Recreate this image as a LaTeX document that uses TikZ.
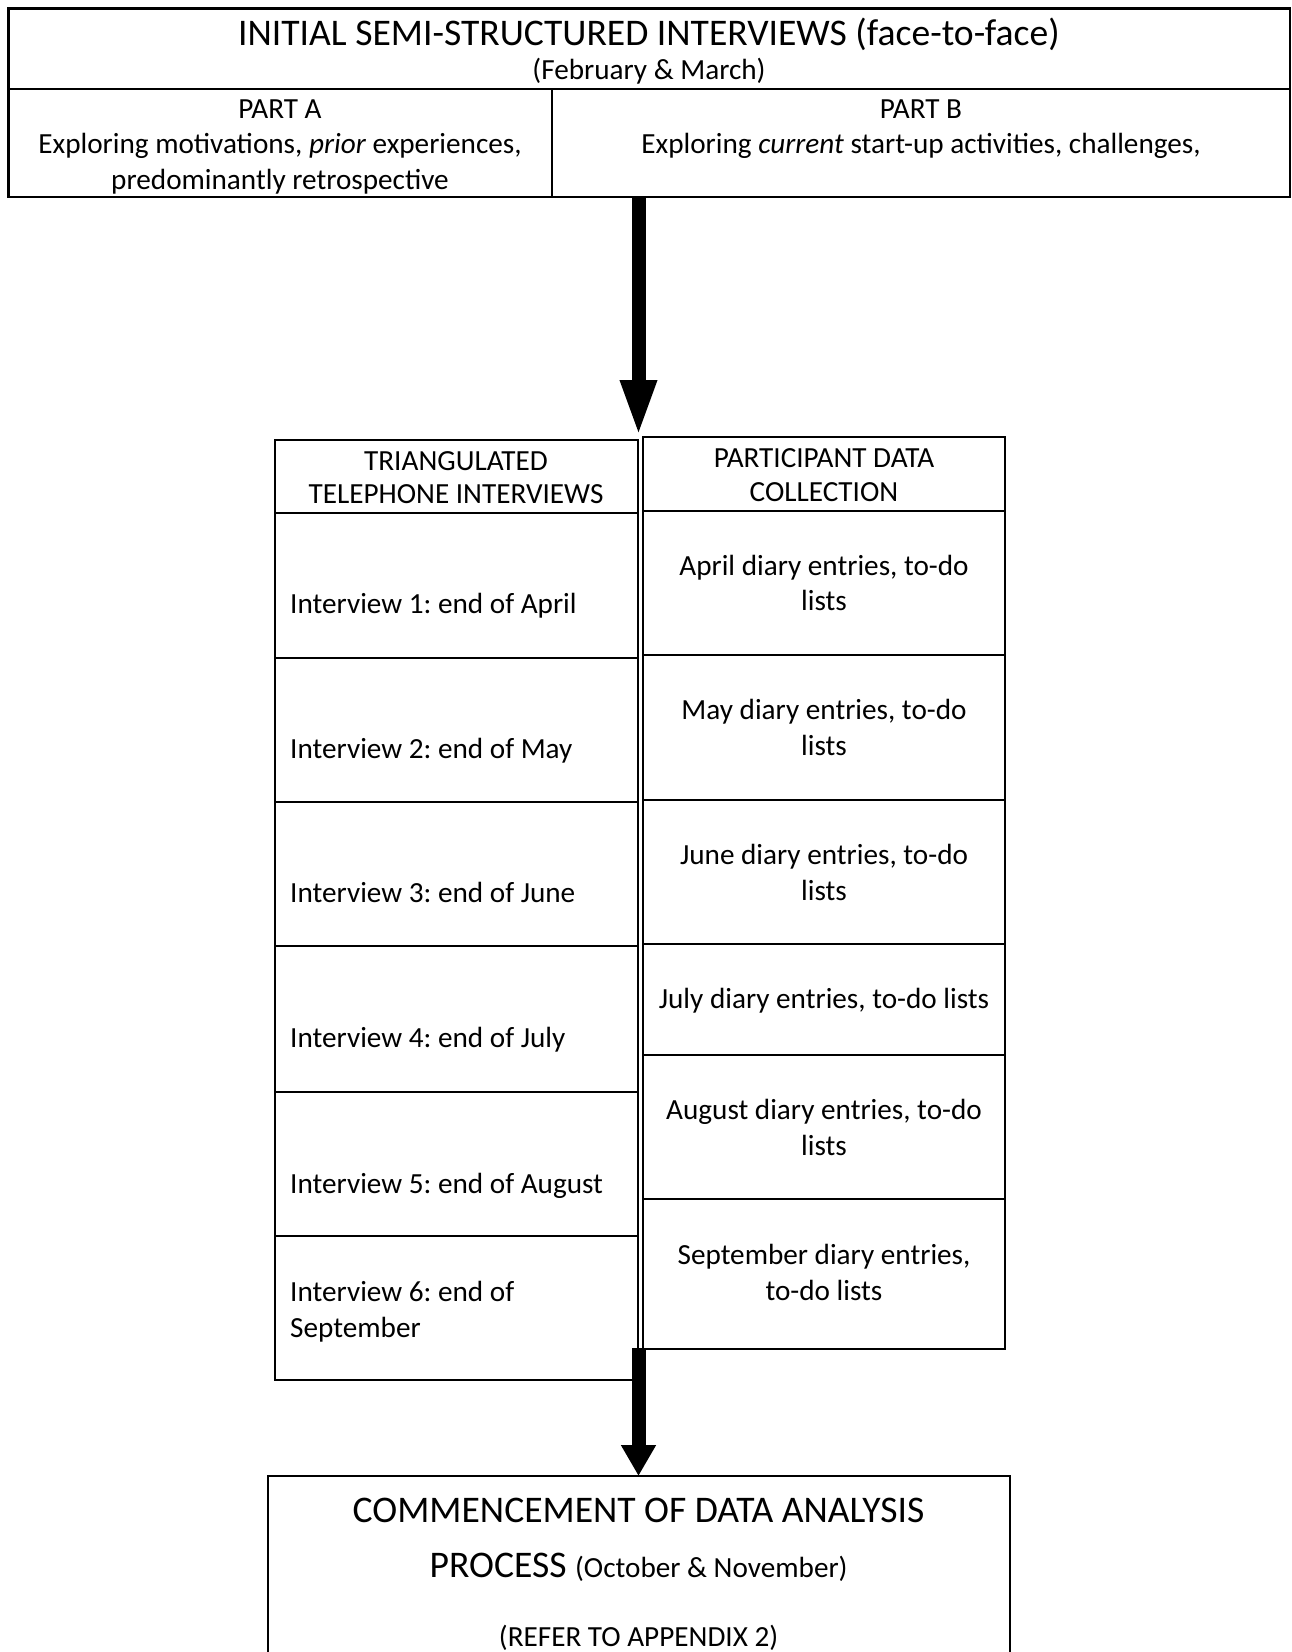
\documentclass[tikz,border=0pt]{standalone}
\usepackage{fontspec}
\setmainfont{Carlito}
\usetikzlibrary{arrows.meta}
\frenchspacing
\begin{document}
\begin{tikzpicture}[x=1pt,y=-1pt,
  box/.style={draw=black,line width=2pt},
  outer/.style={draw=black,line width=2.6pt},
  txt/.style={inner sep=0pt,anchor=base,font=\fontsize{29.2}{35.8}\selectfont\frenchspacing},
  txtl/.style={txt,anchor=base west},
  big/.style={inner sep=0pt,anchor=base,font=\fontsize{37.6}{46}\selectfont\frenchspacing},
  flow/.style={line width=14pt,draw=black}
]
\useasboundingbox (0,0) rectangle (1292,1652);
\clip (0,0) rectangle (1292,1652);
% ---------- top box ----------
\draw[outer] (8.5,8.5) rectangle (1290,197);
\draw[line width=2pt] (8.5,88.5) -- (1290,88.5);
\draw[line width=2pt] (552,88.5) -- (552,197);
\node[big] (title) at (649,45) {INITIAL SEMI-STRUCTURED INTERVIEWS (face-to-face)};
\node[txt] (dates) at (649,79.5) {(February \& March)};
\node[txt] (pa) at (280,118) {PART A};
\node[txt] (pa1) at (280,153.7) {Exploring motivations, \textit{prior} experiences,};
\node[txt] (pa2) at (280,189) {predominantly retrospective};
\node[txt] (pb) at (921,118) {PART B};
\node[txt] (pb1) at (921,153.7) {Exploring \textit{current} start-up activities, challenges,};
% ---------- left column ----------
\draw[box] (275,440) rectangle (637.5,1380);
\foreach \yy in {513,657.5,802,946,1092,1236}{\draw[box] (275,\yy) -- (637.5,\yy);}
\node[txt] (lh1) at (456,470) {TRIANGULATED};
\node[txt] (lh2) at (456,503.5) {TELEPHONE INTERVIEWS};
\node[txtl] (i1) at (290,613.5) {Interview 1: end of April};
\node[txtl] (i2) at (290,758.5) {Interview 2: end of May};
\node[txtl] (i3) at (290,902) {Interview 3: end of June};
\node[txtl] (i4) at (290,1047.5) {Interview 4: end of July};
\node[txtl] (i5) at (290,1193) {Interview 5: end of August};
\node[txtl] (i6a) at (290,1301.5) {Interview 6: end of};
\node[txtl] (i6b) at (290,1337.5) {September};
% ---------- right column ----------
\draw[box] (643,437) rectangle (1005,1349);
\foreach \yy in {511,654.5,800,944,1055,1199}{\draw[box] (643,\yy) -- (1005,\yy);}
\node[txt] (rh1) at (824,467) {PARTICIPANT DATA};
\node[txt] (rh2) at (824,501.5) {COLLECTION};
\node[txt] (d1a) at (824,575.5) {April diary entries, to-do};
\node[txt] (d1b) at (824,610.5) {lists};
\node[txt] (d2a) at (824,719.5) {May diary entries, to-do};
\node[txt] (d2b) at (824,755) {lists};
\node[txt] (d3a) at (824,864) {June diary entries, to-do};
\node[txt] (d3b) at (824,900) {lists};
\node[txt] (d4) at (824,1008.5) {July diary entries, to-do lists};
\node[txt] (d5a) at (824,1119) {August diary entries, to-do};
\node[txt] (d5b) at (824,1155) {lists};
\node[txt] (d6a) at (824,1264.5) {September diary entries,};
\node[txt] (d6b) at (824,1300.5) {to-do lists};
% ---------- bottom box ----------
\draw[box] (267.5,1475.5) rectangle (1009.5,1720);
\node[big] (c1) at (638.6,1522) {COMMENCEMENT OF DATA ANALYSIS};
\node[big] (c2) at (638.6,1577) {PROCESS {\fontsize{29.2}{35.8}\selectfont (October \& November)}};
\node[txt] (c3) at (638.6,1646) {(REFER TO APPENDIX 2)};
% ---------- arrows ----------
\coordinate (a1s) at (638.5,196);
\coordinate (a1e) at (638.5,437);
\coordinate (a2s) at (638.5,1348);
\coordinate (a2e) at (638.5,1476);
\draw[flow,-{Triangle[width=33pt,length=57pt]}] (a1s) -- (a1e);
\draw[flow,-{Triangle[width=33pt,length=31pt]}] (a2s) -- (a2e);
\end{tikzpicture}
\end{document}
